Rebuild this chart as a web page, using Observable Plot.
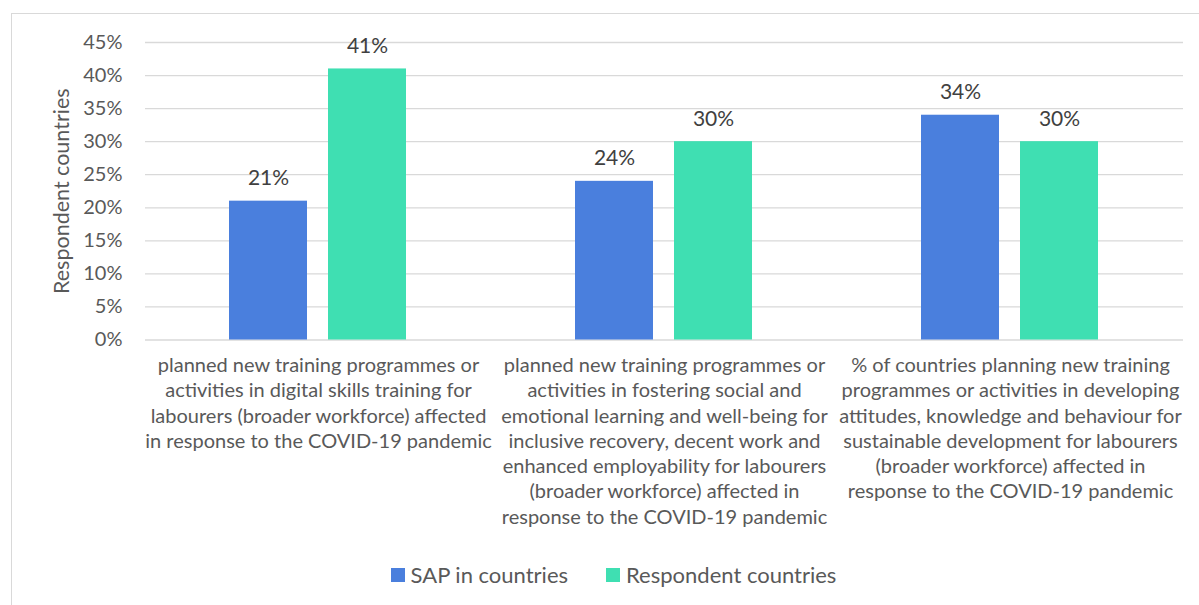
<!DOCTYPE html>
<html>
<head>
<meta charset="utf-8">
<script src="https://cdn.jsdelivr.net/npm/d3@7"></script>
<script src="https://cdn.jsdelivr.net/npm/@observablehq/plot@0.6"></script>
<style>
  html, body { margin: 0; padding: 0; background: #fff; }
  #wrap { position: relative; width: 1199px; height: 605px; overflow: hidden; font-family: Lato, "Open Sans", sans-serif; }
  #frame { position: absolute; left: 11px; top: 13px; width: 1300px; height: 700px; border: 1.5px solid #d9d9d9; box-sizing: border-box; }
  #chart { position: absolute; left: 0; top: 0; }
  #legend { position: absolute; left: 14px; top: 561px; width: 1199px; display: flex; justify-content: center; gap: 38px; font-size: 22px; color: #595959; }
  #legend span.item { display: flex; align-items: center; gap: 6px; }
  #legend span.sw { display: inline-block; width: 14px; height: 14px; }
</style>
</head>
<body>
<div id="wrap">
  <div id="frame"></div>
  <div id="chart"></div>
  <div id="legend"></div>
</div>
<script>
const categories = [
  "planned new training programmes or\nactivities in digital skills training for\nlabourers (broader workforce) affected\nin response to the COVID-19 pandemic",
  "planned new training programmes or\nactivities in fostering social and\nemotional learning and well-being for\ninclusive recovery, decent work and\nenhanced employability for labourers\n(broader workforce) affected in\nresponse to the COVID-19 pandemic",
  "% of countries planning new training\nprogrammes or activities in developing\nattitudes, knowledge and behaviour for\nsustainable development for labourers\n(broader workforce) affected in\nresponse to the COVID-19 pandemic"
];
const seriesNames = ["SAP in countries", "Respondent countries"];
const seriesColors = ["#4a7fdd", "#3fdfb2"];
const sapValues = [0.21, 0.24, 0.34];
const respondentValues = [0.41, 0.30, 0.30];
const yTicks = [0, 0.05, 0.10, 0.15, 0.20, 0.25, 0.30, 0.35, 0.40, 0.45];
const yTickLabels = ["0%", "5%", "10%", "15%", "20%", "25%", "30%", "35%", "40%", "45%"];
const yTitle = "Respondent countries";

const data = categories.flatMap((c, i) => [
  {cat: c, series: seriesNames[0], value: sapValues[i]},
  {cat: c, series: seriesNames[1], value: respondentValues[i]}
]);

const font = "Lato, 'Open Sans', sans-serif";

const chart = Plot.plot({
  width: 1199,
  height: 545,
  marginLeft: 145,
  marginRight: 16,
  marginTop: 42,
  marginBottom: 205.5,
  style: {fontFamily: font, background: "transparent"},
  fx: {domain: categories, padding: 0, label: null},
  x: {domain: seriesNames, paddingInner: 0.212, paddingOuter: 0.853, axis: null},
  y: {domain: [0, 0.45]},
  color: {domain: seriesNames, range: seriesColors},
  marks: [
    Plot.gridY(yTicks, {stroke: "#d9d9d9", strokeOpacity: 1, strokeWidth: 1.3}),
    Plot.axisY(yTicks, {
      tickFormat: d => yTickLabels[yTicks.indexOf(d)],
      tickSize: 0, tickPadding: 23, fontSize: 20, fill: "#595959",
      label: null
    }),
    Plot.axisY([], {
      tickSize: 0, fontSize: 21.5, fill: "#595959",
      label: yTitle, labelAnchor: "center", labelOffset: 92, labelArrow: "none"
    }),
    Plot.barY(data, {fx: "cat", x: "series", y: "value", fill: "series"}),
    Plot.text(data, {
      fx: "cat", x: "series", y: "value",
      text: d => Math.round(d.value * 100) + "%",
      dy: -16, lineAnchor: "bottom", fontSize: 21, fill: "#404040"
    }),
    Plot.axisFx({
      anchor: "bottom", tickSize: 0, tickPadding: 14, fontSize: 20,
      lineHeight: 1.265, fill: "#595959", label: null, tickFormat: d => d
    })
  ]
});
document.getElementById("chart").appendChild(chart);

const legend = document.getElementById("legend");
seriesNames.forEach((s, i) => {
  const item = document.createElement("span");
  item.className = "item";
  const sw = document.createElement("span");
  sw.className = "sw";
  sw.style.background = seriesColors[i];
  const t = document.createElement("span");
  t.textContent = s;
  item.appendChild(sw);
  item.appendChild(t);
  legend.appendChild(item);
});
</script>
</body>
</html>
